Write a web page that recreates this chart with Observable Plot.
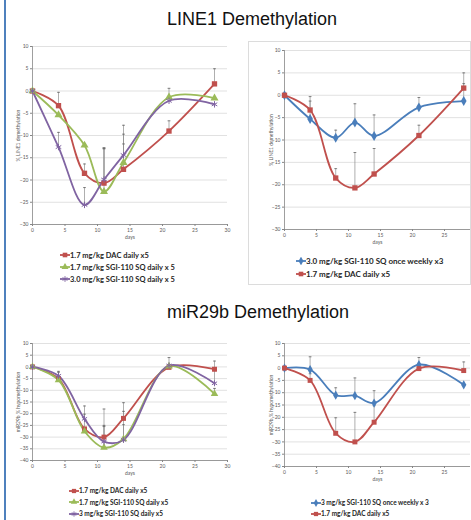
<!DOCTYPE html>
<html><head><meta charset="utf-8">
<script src="https://cdn.jsdelivr.net/npm/d3@7"></script>
<script src="https://cdn.jsdelivr.net/npm/@observablehq/plot@0.6"></script>
<style>
body{margin:0;background:#fff;width:471px;height:520px;overflow:hidden;position:relative;font-family:Lato,"Open Sans",sans-serif}
.abs{position:absolute}
.title{position:absolute;font-family:"Liberation Sans",Arial,sans-serif;font-size:18px;color:#111;white-space:nowrap;text-align:center;width:300px}
.leg{position:absolute;font-weight:bold;color:#262626;white-space:nowrap;font-family:Lato,sans-serif}
.leg .it{display:flex;align-items:center}
.leg svg{display:block}
</style></head><body>
<div class="abs" style="left:4px;top:0;width:2px;height:520px;background:#4F81BD"></div>
<div class="abs" style="left:248px;top:41px;width:221px;height:242px;border:1px solid #dcdcdc"></div>
<div class="title" style="left:102px;top:9px">LINE1 Demethylation</div>
<div class="title" style="left:108px;top:302px">miR29b Demethylation</div>
<script>
// ---- data ----
const days = [0, 4, 8, 11, 14, 21, 28];
const xTicksFull = [0, 5, 10, 15, 20, 25, 30];
const xTicksCut = [0, 5, 10, 15, 20, 25];
const yTicksLine1 = [10, 5, 0, -5, -10, -15, -20, -25, -30];
const yTicksMir = [10, 5, 0, -5, -10, -15, -20, -25, -30, -35, -40];

// LINE1 demethylation (%)
const line1Dac = [0, -3.3, -18.5, -20.7, -17.6, -9.0, 1.6];
const line1DacUpper = [null, -0.3, -16.4, -12.8, -11.9, -6.7, 5.0];
const line1Sgi17 = [0, -5.4, -12.2, -22.6, -16.1, -1.4, -1.6];
const line1Sgi17Upper = [null, null, -11.8, -13.0, -7.7, 0.6, null];
const line1Sgi30 = [0, -12.6, -25.6, -19.9, -14.4, -2.2, -3.0];
const line1Sgi30Upper = [null, -9.3, -21.7, -12.8, -9.7, null, null];
const line1SgiWeekly = [0, -5.3, -9.5, -6.1, -9.1, -2.7, -1.3];
const line1SgiWeeklyUpper = [null, -1.3, -7.8, -1.9, -4.4, -0.5, 2.6];

// miR29b hypomethylation (%)
const mirDac = [0, -5.0, -26.5, -30.0, -22.0, -0.2, -1.0];
const mirDacUpper = [null, -2.3, -20.2, -18.0, -15.3, null, 2.5];
const mirSgi17 = [0, -5.6, -27.5, -34.5, -30.8, 0.3, -11.5];
const mirSgi17Upper = [null, null, null, -25.0, -24.7, 4.0, -9.2];
const mirSgi3 = [0, -3.8, -22.2, -31.9, -31.2, 0.6, -7.0];
const mirSgi3Upper = [null, -1.9, -16.7, -25.5, -19.0, null, -1.6];
const mirSgiWeekly = [0, -0.6, -11.0, -11.2, -14.2, 1.4, -6.8];
const mirSgiWeeklyUpper = [null, 4.6, -8.0, -4.0, -9.2, 4.3, null];

const RED = "#C0504D", GREEN = "#9BBB59", PURPLE = "#8064A2", BLUE = "#4A7EBB";

function makePanel(o) {
  const rows = o.series.flatMap(s => days.map((d, i) => ({day: d, v: s.values[i], up: s.upper[i], name: s.name})));
  const errs = rows.filter(d => d.up != null);
  const marks = [
    Plot.gridY(o.yTicks, {stroke: "#d9d9d9", strokeOpacity: 1, strokeWidth: 0.8}),
    Plot.ruleY([o.yMin], {stroke: "#868686", strokeWidth: 0.8}),
    Plot.ruleX([0], {stroke: "#868686", strokeWidth: 0.8}),
    Plot.axisY({ticks: o.yTicks, tickSize: 2, tickPadding: 2, stroke: "#868686", fill: "#595959", fontSize: 5,
      label: o.yLabel, labelAnchor: "center", labelArrow: "none", labelOffset: o.yLabelOffset}),
    Plot.axisX({ticks: o.xTicks, tickSize: 2, tickPadding: 2, stroke: "#868686", fill: "#595959", fontSize: 5,
      label: "days", labelAnchor: "center", labelArrow: "none", labelOffset: o.xLabelOffset}),
    Plot.ruleX(errs, {x: "day", y1: "v", y2: "up", stroke: "#8c8c8c", strokeWidth: 0.7}),
    Plot.link(errs, {x1: d => d.day - 0.22, x2: d => d.day + 0.22, y1: "up", y2: "up", stroke: "#595959", strokeWidth: 0.7})
  ];
  o.series.forEach(s => {
    marks.push(Plot.line(rows.filter(d => d.name === s.name), {x: "day", y: "v", stroke: s.color, strokeWidth: o.lw, curve: "catmull-rom"}));
  });
  o.series.forEach(s => {
    const data = rows.filter(d => d.name === s.name);
    if (s.stroked) marks.push(Plot.dot(data, {x: "day", y: "v", symbol: s.symbol, r: o.r, stroke: s.color, strokeWidth: 1, fill: "none"}));
    else marks.push(Plot.dot(data, {x: "day", y: "v", symbol: s.symbol, r: o.r, fill: s.color, stroke: "none"}));
  });
  const svg = Plot.plot({
    width: o.width, height: o.height,
    marginLeft: o.mL, marginRight: o.mR, marginTop: o.mT, marginBottom: o.mB,
    x: {domain: [0, o.xMax]}, y: {domain: [o.yMin, o.yMax]},
    style: {fontFamily: "Lato, sans-serif", fontSize: "5px", background: "transparent", overflow: "visible"},
    marks
  });
  svg.style.position = "absolute";
  svg.style.left = o.left + "px";
  svg.style.top = o.top + "px";
  document.body.appendChild(svg);
}

function makeLegend(series, left, top, gap, fontSize, r) {
  const div = document.createElement("div");
  div.className = "leg";
  div.style.left = left + "px";
  div.style.top = top + "px";
  div.style.fontSize = fontSize + "px";
  series.forEach(s => {
    const it = document.createElement("div");
    it.className = "it";
    it.style.height = gap + "px";
    const w = 10, h = 8;
    const sv = d3.create("svg").attr("width", w).attr("height", h);
    sv.append("line").attr("x1", 0).attr("x2", w).attr("y1", h / 2).attr("y2", h / 2).attr("stroke", s.color).attr("stroke-width", 1.8);
    const symMap = {square: d3.symbolSquare, triangle: d3.symbolTriangle, asterisk: d3.symbolAsterisk, diamond: d3.symbolDiamond};
    const path = d3.symbol(symMap[s.symbol], Math.PI * r * r)();
    const p = sv.append("path").attr("d", path).attr("transform", `translate(${w / 2},${h / 2})`);
    if (s.stroked) p.attr("fill", "none").attr("stroke", s.color).attr("stroke-width", 1);
    else p.attr("fill", s.color);
    it.appendChild(sv.node());
    const sp = document.createElement("span");
    sp.textContent = s.name;
    it.appendChild(sp);
    div.appendChild(it);
  });
  document.body.appendChild(div);
}

// ---- panel A: LINE1, three series ----
const seriesA = [
  {name: "1.7 mg/kg DAC daily x5", values: line1Dac, upper: line1DacUpper, color: RED, symbol: "square"},
  {name: "1.7 mg/kg SGI-110 SQ daily x 5", values: line1Sgi17, upper: line1Sgi17Upper, color: GREEN, symbol: "triangle"},
  {name: "3.0 mg/kg SGI-110 SQ daily x 5", values: line1Sgi30, upper: line1Sgi30Upper, color: PURPLE, symbol: "asterisk", stroked: true}
];
makePanel({left: 0, top: 36, width: 240, height: 210, mL: 32, mR: 13, mT: 10, mB: 22,
  xMax: 30, xTicks: xTicksFull, yMin: -30, yMax: 10, yTicks: yTicksLine1,
  yLabel: "% LINE1 demethylation", yLabelOffset: 16, xLabelOffset: 14, series: seriesA, r: 3, lw: 1.8});
makeLegend(seriesA, 60, 249, 12, 7.5, 2.6);

// ---- panel B: LINE1, weekly vs DAC ----
const seriesB = [
  {name: "3.0 mg/kg  SGI-110 SQ once weekly x3", values: line1SgiWeekly, upper: line1SgiWeeklyUpper, color: BLUE, symbol: "diamond"},
  {name: "1.7 mg/kg DAC daily x5", values: line1Dac, upper: line1DacUpper, color: RED, symbol: "square"}
];
makePanel({left: 240, top: 36, width: 231, height: 215, mL: 44, mR: 1, mT: 14, mB: 22,
  xMax: 29.06, xTicks: xTicksCut, yMin: -30, yMax: 10, yTicks: yTicksLine1,
  yLabel: "% LINE1 demethylation", yLabelOffset: 15, xLabelOffset: 14, series: seriesB, r: 3, lw: 1.8});
makeLegend(seriesB, 296, 254, 13, 8, 2.6);

// ---- panel C: miR29b, three series ----
const seriesC = [
  {name: "1.7 mg/kg DAC daily x5", values: mirDac, upper: mirDacUpper, color: RED, symbol: "square"},
  {name: "1.7 mg/kg SGI-110 SQ daily x5", values: mirSgi17, upper: mirSgi17Upper, color: GREEN, symbol: "triangle"},
  {name: "3 mg/kg SGI-110 SQ daily x5", values: mirSgi3, upper: mirSgi3Upper, color: PURPLE, symbol: "asterisk", stroked: true}
];
makePanel({left: 0, top: 330, width: 240, height: 150, mL: 32, mR: 13, mT: 13, mB: 20,
  xMax: 30, xTicks: xTicksFull, yMin: -40, yMax: 10, yTicks: yTicksMir,
  yLabel: "miR29b % hypomethylation", yLabelOffset: 16, xLabelOffset: 14, series: seriesC, r: 2.8, lw: 1.8});
makeLegend(seriesC, 69, 485, 11.5, 6.5, 2.4);

// ---- panel D: miR29b, weekly vs DAC ----
const seriesD = [
  {name: "3 mg/kg SGI-110 SQ once weekly x 3", values: mirSgiWeekly, upper: mirSgiWeeklyUpper, color: BLUE, symbol: "diamond"},
  {name: "1.7 mg/kg DAC daily x5", values: mirDac, upper: mirDacUpper, color: RED, symbol: "square"}
];
makePanel({left: 240, top: 330, width: 231, height: 156, mL: 44, mR: 1, mT: 13, mB: 20,
  xMax: 29.06, xTicks: xTicksCut, yMin: -40, yMax: 10, yTicks: yTicksMir,
  yLabel: "miR29b % hypomethylation", yLabelOffset: 15, xLabelOffset: 14, series: seriesD, r: 2.8, lw: 1.8});
makeLegend(seriesD, 311, 497, 11, 6.5, 2.4);
</script>
</body></html>
